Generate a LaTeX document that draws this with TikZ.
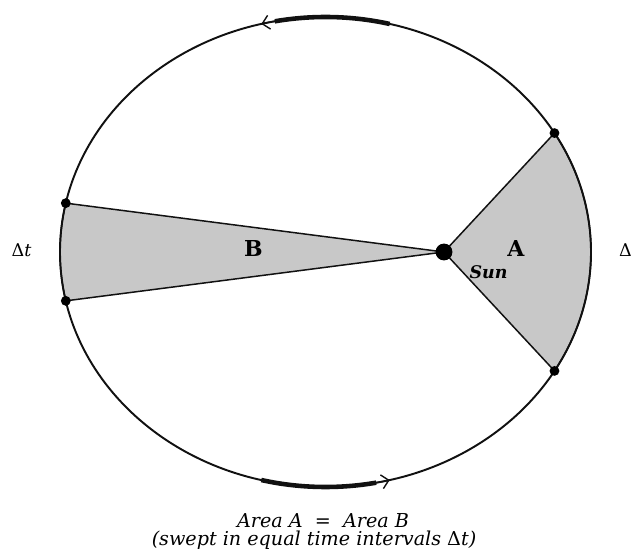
\documentclass[tikz,border=0pt]{standalone}
\usepackage{fontspec}
\setmainfont{DejaVu Serif}
\usetikzlibrary{arrows.meta}
\definecolor{Shade}{HTML}{C8C8C8}
\definecolor{Ink}{HTML}{111111}
\begin{document}
\begin{tikzpicture}[x=0.02cm,y=0.02cm,
  orbit/.style={line width=1.1pt,Ink},
  sector/.style={fill=Shade,draw=Ink,line width=0.85pt,line join=round},
  dot/.style={circle,fill=black,inner sep=0pt,minimum size=5.6pt},
  sweep/.style={line width=2.6pt,Ink},
  tip/.style={line width=0.8pt,Ink,-{Straight Barb[length=4pt,width=8pt]}},
  bigletter/.style={font=\fontsize{12.5}{14}\selectfont\bfseries,anchor=base},
  note/.style={font=\fontsize{10.9}{12}\selectfont\itshape,anchor=base}]
  \useasboundingbox (0,0) rectangle (636,551);
  \coordinate (ctr) at (325.5,299);
  \coordinate (sun) at (444,299);
  \path (ctr) ++(30.4:265.5 and 235) coordinate (pA1);
  \path (ctr) ++(-30.4:265.5 and 235) coordinate (pA2);
  \path (ctr) ++(168:265.5 and 235) coordinate (pB1);
  \path (ctr) ++(192:265.5 and 235) coordinate (pB2);
  \draw[sector] (sun) -- (pA2) arc[start angle=-30.4,end angle=30.4,x radius=265.5,y radius=235] -- cycle;
  \draw[sector] (sun) -- (pB1) arc[start angle=168,end angle=192,x radius=265.5,y radius=235] -- cycle;
  \draw[orbit] (ctr) ellipse[x radius=265.5,y radius=235];
  \draw[sweep] (ctr) ++(76:265.5 and 235) arc[start angle=76,end angle=101,x radius=265.5,y radius=235];
  \draw[tip] (ctr) ++(99:265.5 and 235) arc[start angle=99,end angle=104,x radius=265.5,y radius=235];
  \draw[sweep] (ctr) ++(256:265.5 and 235) arc[start angle=256,end angle=281,x radius=265.5,y radius=235];
  \draw[tip] (ctr) ++(279:265.5 and 235) arc[start angle=279,end angle=284,x radius=265.5,y radius=235];
  \node[dot] (dA1) at (pA1) {};
  \node[dot] (dA2) at (pA2) {};
  \node[dot] (dB1) at (pB1) {};
  \node[dot] (dB2) at (pB2) {};
  \node[circle,fill=black,inner sep=0pt,minimum size=9.6pt] (sunDot) at (sun) {};
  \node[bigletter] (lblB) at (253.5,294) {B};
  \node[bigletter] (lblA) at (516,294) {A};
  \node[font=\fontsize{9.9}{11}\selectfont\bfseries\itshape,anchor=base] (lblSun) at (488.5,272) {Sun};
  \node[font=\fontsize{10}{12}\selectfont,anchor=base] (dtLeft) at (21.5,294) {Δ\textit{t}};
  \node[font=\fontsize{10}{12}\selectfont,anchor=base] (dtRight) at (625.5,294) {Δ};
  \node[note] (law1) at (323,23) {Area A \ = \ Area B};
  \node[note] (law2) at (314,5) {(swept in equal time intervals {\upshape Δ}t)};
\end{tikzpicture}
\end{document}
